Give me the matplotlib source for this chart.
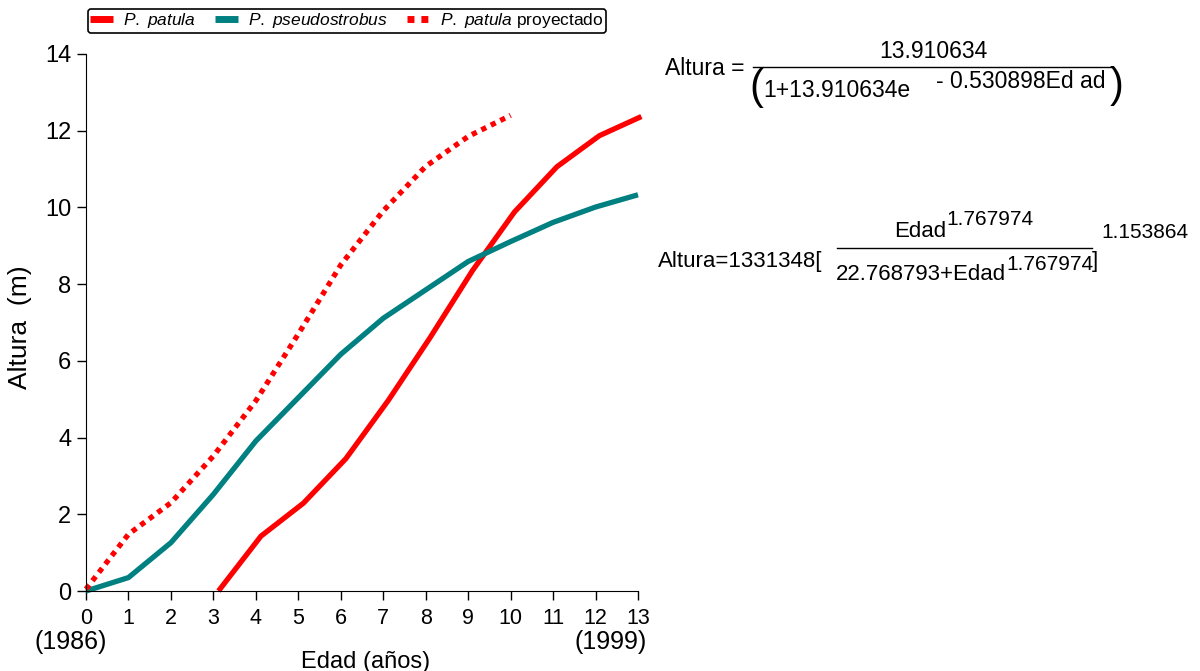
import matplotlib
matplotlib.use("Agg")
import matplotlib.pyplot as plt
from matplotlib.lines import Line2D

plt.rcParams['font.family'] = ['Liberation Sans', 'DejaVu Sans']
plt.rcParams['mathtext.fontset'] = 'custom'
plt.rcParams['mathtext.rm'] = 'Liberation Sans'
plt.rcParams['mathtext.it'] = 'Liberation Sans:italic'

# Data
edad_patula = [3.12, 4.12, 5.12, 6.12, 7.12, 8.1, 9.1, 10.09, 11.09, 12.09, 13.08]
altura_patula = [0.0, 1.43, 2.29, 3.45, 4.97, 6.6, 8.35, 9.88, 11.06, 11.87, 12.37]

edad_pseudo = [0, 1, 2, 3, 4, 5, 6, 7, 8, 9, 10, 11, 12, 13]
altura_pseudo = [0.0, 0.35, 1.26, 2.52, 3.91, 5.04, 6.17, 7.11, 7.85, 8.59, 9.11, 9.61, 10.01, 10.33]

edad_proy = [0, 1, 2, 3, 4, 5, 6, 7, 8, 9, 10]
altura_proy = [0.05, 1.48, 2.3, 3.52, 4.96, 6.7, 8.5, 9.91, 11.07, 11.85, 12.4]

xticks = list(range(0, 14))
yticks = [0, 2, 4, 6, 8, 10, 12, 14]

RED = '#FF0000'
TEAL = '#008080'

W, H = 1200, 671
fig = plt.figure(figsize=(12, 6.71), dpi=100)
ax = fig.add_axes([86 / W, 1 - 591 / H, (638 - 86) / W, (591 - 54) / H])

lw = 3.8
ax.plot(edad_patula, altura_patula, color=RED, lw=lw, solid_capstyle='butt', clip_on=False)
ax.plot(edad_pseudo, altura_pseudo, color=TEAL, lw=lw, solid_capstyle='butt', clip_on=False)
ax.plot(edad_proy, altura_proy, color=RED, lw=lw, linestyle=(0, (1, 1)),
        dash_capstyle='butt', clip_on=False)

ax.set_xlim(0, 13)
ax.set_ylim(0, 14)
ax.set_xticks(xticks)
ax.set_yticks(yticks)
ax.spines['top'].set_visible(False)
ax.spines['right'].set_visible(False)
ax.tick_params(axis='both', direction='out', length=6.5, width=1)
ax.tick_params(axis='x', labelsize=15.5, pad=6)
ax.tick_params(axis='y', labelsize=17, pad=4)


def px(x, y):
    return x / W, 1 - y / H


# axis labels
fig.text(*px(20, 327), 'Altura  (m)', fontsize=19, rotation=90, ha='center', va='center')
fig.text(*px(366, 668), 'Edad (años)', fontsize=17, ha='center', va='baseline')

# year labels under ticks
fig.text(*px(71, 649), '(1986)', fontsize=18, ha='center', va='baseline')
fig.text(*px(611, 649), '(1999)', fontsize=18, ha='center', va='baseline')

# Legend
handles = [
    Line2D([], [], color=RED, lw=5, solid_capstyle='butt'),
    Line2D([], [], color=TEAL, lw=5, solid_capstyle='butt'),
    Line2D([], [], color=RED, lw=5, linestyle=(0, (1, 1)), dash_capstyle='butt'),
]
labels = [r'$\mathit{P.\ patula}$', r'$\mathit{P.\ pseudostrobus}$',
          r'$\mathit{P.\ patula}$ proyectado']
leg = fig.legend(handles, labels, loc='center', bbox_to_anchor=(347 / W, 1 - 21 / H),
                 ncol=3, fontsize=12.5, frameon=True, fancybox=True, handlelength=1.3,
                 handletextpad=0.6, columnspacing=1.1, borderpad=0.15,
                 edgecolor='black', framealpha=1)
leg.get_frame().set_linewidth(1.2)

fs = 16.5
# Formula 1
fig.text(*px(665, 75), 'Altura =', fontsize=fs, ha='left', va='baseline')
fig.text(*px(933, 58), '13.910634', fontsize=fs, ha='center', va='baseline')
fig.add_artist(Line2D([753 / W, 1113 / W], [1 - 67 / H, 1 - 67 / H], color='black', lw=1))
fig.text(*px(749, 88), '(', fontsize=30, ha='left', va='center')
fig.text(*px(763, 97), '1+13.910634e', fontsize=fs, ha='left', va='baseline')
fig.text(*px(936, 88), '- 0.530898Ed ad', fontsize=fs, ha='left', va='baseline')
fig.text(*px(1110, 86), ')', fontsize=30, ha='left', va='center')

# Formula 2
fs2 = 16
fse = 15
fig.text(*px(658, 267), 'Altura=1331348[', fontsize=fs2, ha='left', va='baseline')
fig.text(*px(894, 237), 'Edad', fontsize=fs2, ha='left', va='baseline')
fig.text(*px(946, 225), '1.767974', fontsize=fse, ha='left', va='baseline')
fig.add_artist(Line2D([837 / W, 1092 / W], [1 - 248 / H, 1 - 248 / H], color='black', lw=1))
fig.text(*px(836, 280), '22.768793+Edad', fontsize=fs2, ha='left', va='baseline')
fig.text(*px(1006, 270), '1.767974', fontsize=fse, ha='left', va='baseline')
fig.text(*px(1092, 267), ']', fontsize=fs2, ha='left', va='baseline')
fig.text(*px(1101, 238), '1.153864', fontsize=fse, ha='left', va='baseline')

fig.savefig('out.png', dpi=100)
